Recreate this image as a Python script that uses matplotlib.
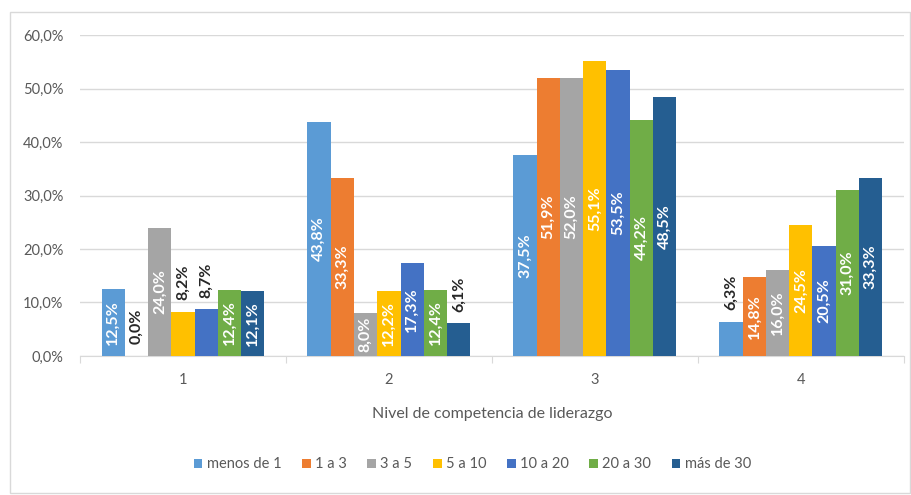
import matplotlib.pyplot as plt
import numpy as np
from matplotlib.patches import Rectangle

plt.rcParams['font.family'] = ['Lato', 'DejaVu Sans']

niveles = ['1', '2', '3', '4']
series = ['menos de 1', '1 a 3', '3 a 5', '5 a 10', '10 a 20', '20 a 30', 'más de 30']
colores = ['#5B9BD5', '#ED7D31', '#A5A5A5', '#FFC000', '#4472C4', '#70AD47', '#255E91']

menos_1 = [12.5, 43.8, 37.5, 6.3]
de_1_3 = [0.0, 33.3, 51.9, 14.8]
de_3_5 = [24.0, 8.0, 52.0, 16.0]
de_5_10 = [8.2, 12.2, 55.1, 24.5]
de_10_20 = [8.7, 17.3, 53.5, 20.5]
de_20_30 = [12.4, 12.4, 44.2, 31.0]
mas_30 = [12.1, 6.1, 48.5, 33.3]
valores = [menos_1, de_1_3, de_3_5, de_5_10, de_10_20, de_20_30, mas_30]

# etiquetas que Excel dejó fuera de la barra (serie, nivel)
fuera = {(1, 0), (3, 0), (4, 0), (6, 1), (0, 3)}

fig = plt.figure(figsize=(9.12, 4.95), dpi=100)
ax = fig.add_axes([0.0877, 0.281, 0.9033, 0.648])

x = np.arange(1, 5)
w = 0.113
for i, (vals, col, nom) in enumerate(zip(valores, colores, series)):
    pos = x + (i - 3) * w
    ax.bar(pos, vals, width=w, color=col, label=nom, zorder=3)
    for j, (p, v) in enumerate(zip(pos, vals)):
        txt = f'{v:.1f}%'.replace('.', ',')
        if (i, j) in fuera:
            ax.text(p, v + 2.2, txt, rotation=90, ha='center', va='bottom',
                    color='#262626', fontsize=11.5, fontweight='bold', zorder=4)
        else:
            ax.text(p, v / 2, txt, rotation=90, ha='center', va='center',
                    color='white', fontsize=11.5, fontweight='bold', zorder=4)

ax.set_xlim(0.5, 4.5)
ax.set_ylim(0, 60)
ax.set_yticks(np.arange(0, 61, 10))
ax.set_yticklabels([f'{v:.1f}%'.replace('.', ',') for v in np.arange(0, 61, 10)])
ax.yaxis.grid(True, color='#D9D9D9', linewidth=1, zorder=0)
ax.tick_params(axis='y', length=0, labelcolor='#595959', labelsize=10.5, pad=12)

ax.set_xticks(np.arange(0.5, 4.6, 1))
ax.set_xticklabels([])
ax.set_xticks(x, minor=True)
ax.set_xticklabels(niveles, minor=True)
ax.tick_params(axis='x', which='major', length=5, color='#D9D9D9')
ax.tick_params(axis='x', which='minor', length=0, labelcolor='#595959', labelsize=10.5, pad=12)
ax.set_xlabel('Nivel de competencia de liderazgo', color='#595959', fontsize=11.5, labelpad=15)

for s in ['top', 'right', 'left']:
    ax.spines[s].set_visible(False)
ax.spines['bottom'].set_color('#D9D9D9')

fig.legend(loc='center', bbox_to_anchor=(0.518, 0.062), ncol=7, frameon=False,
           handlelength=0.6, handleheight=0.6, handletextpad=0.3, columnspacing=1.4,
           fontsize=10.5, labelcolor='#595959')

fig.patches.append(Rectangle((0.011, 0.005), 0.987, 0.97, transform=fig.transFigure,
                             fill=False, edgecolor='#D9D9D9', linewidth=1))

fig.savefig('out.png', dpi=100)
